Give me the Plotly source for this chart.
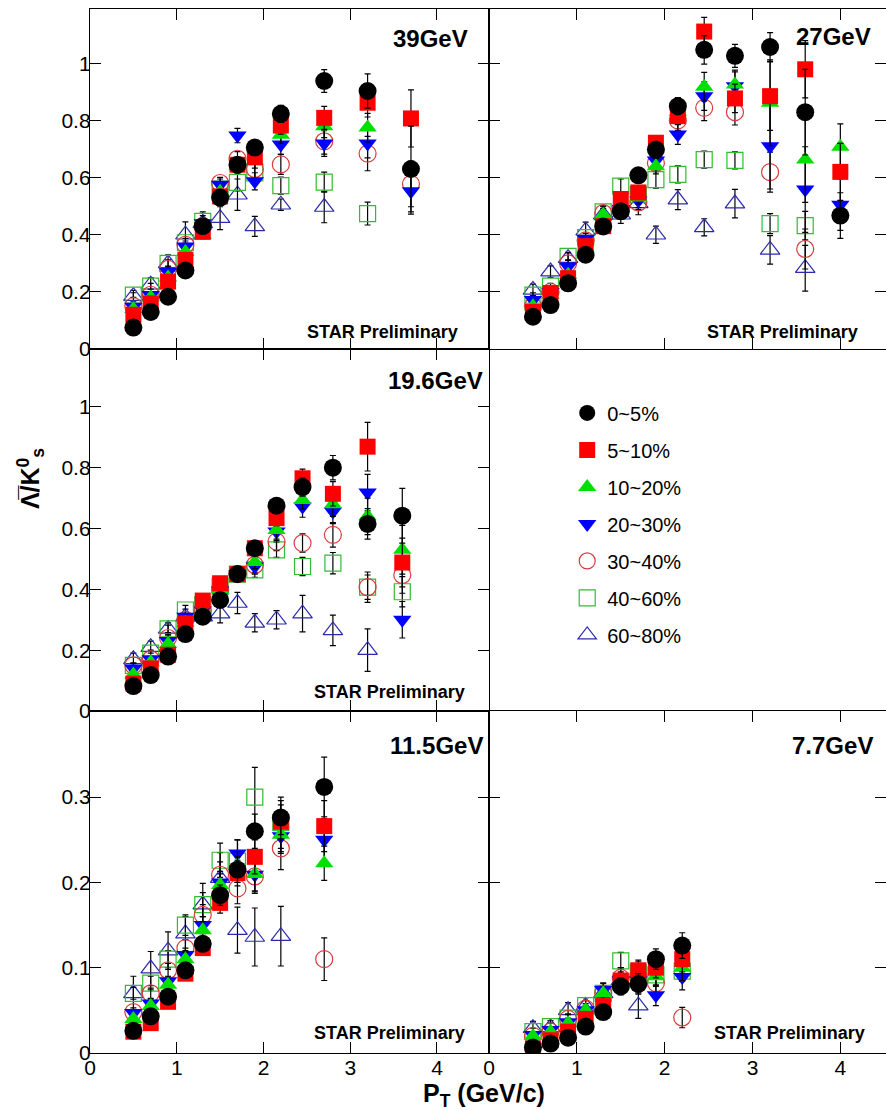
import plotly.graph_objects as go
from plotly.subplots import make_subplots

CENT = ["0~5%", "5~10%", "10~20%", "20~30%", "30~40%", "40~60%", "60~80%"]

# ---------------- 39 GeV ----------------
PT_39 = [0.5, 0.7, 0.9, 1.1, 1.3, 1.5, 1.7, 1.9, 2.2, 2.7, 3.2, 3.7]
Y_39 = {
    "0~5%":   [0.075, 0.13, 0.183, 0.275, 0.43, 0.53, 0.645, 0.705, 0.823, 0.938, 0.903, 0.63],
    "5~10%":  [0.12, 0.16, 0.236, 0.312, 0.41, 0.534, 0.645, 0.672, 0.782, 0.809, 0.862, 0.807],
    "10~20%": [0.14, 0.18, 0.25, 0.34, 0.40, 0.55, 0.64, 0.66, 0.75, 0.78, 0.775, None],
    "20~30%": [0.148, 0.189, 0.27, 0.359, 0.44, 0.575, 0.747, 0.587, 0.716, 0.719, 0.719, 0.552],
    "30~40%": [0.15, 0.19, 0.28, 0.365, 0.43, 0.581, 0.666, 0.63, 0.646, 0.727, 0.684, 0.578],
    "40~60%": [0.189, 0.22, 0.30, 0.372, 0.447, 0.56, 0.583, 0.616, 0.572, 0.584, 0.474, None],
    "60~80%": [0.185, 0.225, 0.30, 0.40, 0.44, 0.458, 0.54, 0.429, 0.505, 0.497, None, None],
}
E_39 = {
    "0~5%":   [0.005, 0.006, 0.007, 0.01, 0.012, 0.015, 0.02, 0.025, 0.03, 0.04, 0.06, 0.15],
    "5~10%":  [0.005, 0.006, 0.008, 0.01, 0.012, 0.015, 0.02, 0.025, 0.03, 0.04, 0.05, 0.10],
    "10~20%": [0.006, 0.007, 0.009, 0.011, 0.014, 0.017, 0.022, 0.027, 0.03, 0.04, 0.05, None],
    "20~30%": [0.006, 0.007, 0.009, 0.012, 0.015, 0.02, 0.025, 0.03, 0.035, 0.045, 0.05, 0.08],
    "30~40%": [0.007, 0.008, 0.01, 0.013, 0.016, 0.02, 0.025, 0.03, 0.035, 0.045, 0.06, 0.08],
    "40~60%": [0.008, 0.01, 0.012, 0.015, 0.02, 0.025, 0.03, 0.03, 0.03, 0.035, 0.04, None],
    "60~80%": [0.02, 0.025, 0.03, 0.045, 0.04, 0.04, 0.055, 0.035, 0.02, 0.055, None, None],
}

# ---------------- 27 GeV ----------------
PT_27 = [0.5, 0.7, 0.9, 1.1, 1.3, 1.5, 1.7, 1.9, 2.15, 2.45, 2.8, 3.2, 3.6, 4.0]
Y_27 = {
    "0~5%":   [0.113, 0.154, 0.23, 0.33, 0.429, 0.482, 0.608, 0.698, 0.85, 1.047, 1.026, 1.057, 0.829, 0.467],
    "5~10%":  [0.13, 0.196, 0.248, 0.36, 0.43, 0.525, 0.548, 0.722, 0.815, 1.111, 0.877, 0.885, 0.979, 0.62],
    "10~20%": [0.15, 0.19, 0.26, 0.35, 0.47, 0.49, 0.53, 0.64, 0.83, 0.918, 0.926, 0.862, 0.663, 0.708],
    "20~30%": [0.172, 0.20, 0.289, 0.385, 0.44, 0.49, 0.52, 0.66, 0.751, 0.885, 0.92, 0.71, 0.558, 0.505],
    "30~40%": [0.15, 0.20, 0.30, 0.38, 0.476, 0.49, 0.513, 0.651, 0.80, 0.844, 0.829, 0.619, 0.35, None],
    "40~60%": [0.189, 0.22, 0.324, 0.39, 0.48, 0.57, 0.54, 0.593, 0.611, 0.663, 0.66, 0.439, 0.432, None],
    "60~80%": [0.207, 0.271, 0.318, 0.414, 0.47, 0.47, 0.51, 0.40, 0.523, 0.426, 0.509, 0.347, 0.283, None],
}
E_27 = {
    "0~5%":   [0.005, 0.006, 0.008, 0.01, 0.012, 0.015, 0.02, 0.025, 0.03, 0.05, 0.04, 0.05, 0.15, 0.08],
    "5~10%":  [0.005, 0.006, 0.008, 0.01, 0.012, 0.015, 0.02, 0.025, 0.03, 0.05, 0.05, 0.12, 0.10, 0.10],
    "10~20%": [0.006, 0.007, 0.009, 0.011, 0.014, 0.017, 0.022, 0.027, 0.03, 0.05, 0.05, 0.15, 0.15, 0.08],
    "20~30%": [0.006, 0.007, 0.009, 0.012, 0.015, 0.02, 0.025, 0.03, 0.035, 0.05, 0.05, 0.15, 0.15, 0.09],
    "30~40%": [0.007, 0.008, 0.01, 0.013, 0.016, 0.02, 0.025, 0.03, 0.035, 0.045, 0.045, 0.07, 0.07, None],
    "40~60%": [0.008, 0.01, 0.012, 0.015, 0.02, 0.025, 0.03, 0.03, 0.03, 0.03, 0.03, 0.035, 0.05, None],
    "60~80%": [0.02, 0.02, 0.02, 0.03, 0.03, 0.03, 0.04, 0.03, 0.035, 0.03, 0.05, 0.05, 0.08, None],
}

# ---------------- 19.6 GeV ----------------
PT_19 = [0.5, 0.7, 0.9, 1.1, 1.3, 1.5, 1.7, 1.9, 2.15, 2.45, 2.8, 3.2, 3.6]
Y_19 = {
    "0~5%":   [0.082, 0.118, 0.179, 0.253, 0.31, 0.365, 0.45, 0.535, 0.675, 0.736, 0.80, 0.615, 0.642],
    "5~10%":  [0.09, 0.14, 0.185, 0.288, 0.363, 0.42, 0.45, 0.535, 0.634, 0.765, 0.714, 0.869, 0.488],
    "10~20%": [0.12, 0.16, 0.22, 0.29, 0.33, 0.40, 0.45, 0.49, 0.595, 0.694, 0.68, 0.64, 0.53],
    "20~30%": [0.14, 0.17, 0.23, 0.31, 0.33, 0.396, 0.45, 0.475, 0.59, 0.672, 0.656, 0.718, 0.30],
    "30~40%": [0.15, 0.17, 0.24, 0.30, 0.33, 0.40, 0.45, 0.48, 0.557, 0.552, 0.579, 0.407, 0.447],
    "40~60%": [0.15, 0.19, 0.27, 0.332, 0.35, 0.41, 0.45, 0.464, 0.53, 0.475, 0.486, 0.407, 0.392],
    "60~80%": [0.17, 0.21, 0.27, 0.31, 0.31, 0.32, 0.355, 0.29, 0.30, 0.32, 0.265, 0.20, None],
}
E_19 = {
    "0~5%":   [0.005, 0.006, 0.008, 0.01, 0.012, 0.015, 0.02, 0.02, 0.025, 0.03, 0.04, 0.05, 0.09],
    "5~10%":  [0.005, 0.006, 0.008, 0.01, 0.012, 0.015, 0.02, 0.02, 0.025, 0.03, 0.04, 0.08, 0.08],
    "10~20%": [0.006, 0.007, 0.009, 0.011, 0.014, 0.017, 0.02, 0.022, 0.03, 0.03, 0.04, 0.06, 0.08],
    "20~30%": [0.006, 0.007, 0.009, 0.012, 0.015, 0.02, 0.02, 0.025, 0.03, 0.035, 0.04, 0.06, 0.06],
    "30~40%": [0.007, 0.008, 0.01, 0.013, 0.016, 0.02, 0.02, 0.025, 0.03, 0.03, 0.04, 0.05, 0.06],
    "40~60%": [0.008, 0.01, 0.012, 0.015, 0.02, 0.02, 0.02, 0.025, 0.025, 0.03, 0.035, 0.04, 0.05],
    "60~80%": [0.02, 0.02, 0.02, 0.025, 0.025, 0.03, 0.035, 0.03, 0.03, 0.06, 0.05, 0.07, None],
}

# ---------------- 11.5 GeV ----------------
PT_11 = [0.5, 0.7, 0.9, 1.1, 1.3, 1.5, 1.7, 1.9, 2.2, 2.7]
Y_11 = {
    "0~5%":   [0.026, 0.043, 0.066, 0.097, 0.128, 0.185, 0.215, 0.26, 0.276, 0.312],
    "5~10%":  [0.025, 0.035, 0.06, 0.093, 0.123, 0.176, 0.211, 0.23, 0.271, 0.266],
    "10~20%": [0.04, 0.055, 0.08, 0.11, 0.144, 0.197, 0.22, 0.21, 0.256, 0.2225],
    "20~30%": [0.047, 0.058, 0.084, 0.115, 0.15, 0.20, 0.234, 0.209, 0.254, 0.25],
    "30~40%": [0.048, 0.07, 0.097, 0.123, 0.162, 0.209, 0.193, 0.207, 0.24, 0.11],
    "40~60%": [0.07, 0.082, 0.11, 0.15, 0.174, 0.226, 0.225, 0.30, 0.27, None],
    "60~80%": [0.07, 0.099, 0.12, 0.14, 0.174, 0.205, 0.144, 0.136, 0.137, None],
}
E_11 = {
    "0~5%":   [0.003, 0.004, 0.005, 0.006, 0.008, 0.012, 0.015, 0.02, 0.02, 0.035],
    "5~10%":  [0.003, 0.004, 0.005, 0.006, 0.008, 0.012, 0.015, 0.02, 0.02, 0.03],
    "10~20%": [0.004, 0.005, 0.006, 0.008, 0.01, 0.013, 0.016, 0.02, 0.02, 0.02],
    "20~30%": [0.004, 0.005, 0.006, 0.008, 0.01, 0.013, 0.016, 0.02, 0.02, 0.025],
    "30~40%": [0.005, 0.006, 0.008, 0.01, 0.012, 0.015, 0.018, 0.02, 0.025, 0.025],
    "40~60%": [0.007, 0.008, 0.01, 0.012, 0.014, 0.02, 0.025, 0.035, 0.03, None],
    "60~80%": [0.02, 0.02, 0.022, 0.02, 0.025, 0.03, 0.027, 0.034, 0.035, None],
}

# ---------------- 7.7 GeV ----------------
PT_7 = [0.5, 0.7, 0.9, 1.1, 1.3, 1.5, 1.7, 1.9, 2.2]
Y_7 = {
    "0~5%":   [0.0066, 0.011, 0.018, 0.031, 0.048, 0.078, 0.081, 0.11, 0.126],
    "5~10%":  [0.005, 0.015, 0.025, 0.04, 0.055, 0.085, 0.097, 0.10, 0.11],
    "10~20%": [0.02, 0.025, 0.035, 0.05, 0.07, 0.08, 0.09, 0.09, 0.10],
    "20~30%": [0.021, 0.027, 0.036, 0.05, 0.074, 0.085, 0.085, 0.0676, 0.089],
    "30~40%": [0.02, 0.025, 0.04, 0.052, 0.07, 0.088, 0.09, 0.082, 0.0416],
    "40~60%": [0.025, 0.031, 0.041, 0.0555, 0.07, 0.108, 0.095, 0.0915, 0.096],
    "60~80%": [0.029, 0.03, 0.05, 0.055, 0.07, 0.085, 0.0555, None, None],
}
E_7 = {
    "0~5%":   [0.002, 0.003, 0.004, 0.005, 0.007, 0.01, 0.012, 0.012, 0.015],
    "5~10%":  [0.002, 0.003, 0.004, 0.005, 0.007, 0.01, 0.012, 0.012, 0.015],
    "10~20%": [0.003, 0.003, 0.004, 0.005, 0.007, 0.01, 0.012, 0.012, 0.015],
    "20~30%": [0.003, 0.003, 0.004, 0.006, 0.008, 0.01, 0.012, 0.012, 0.015],
    "30~40%": [0.003, 0.004, 0.005, 0.006, 0.008, 0.012, 0.012, 0.012, 0.012],
    "40~60%": [0.004, 0.004, 0.005, 0.006, 0.008, 0.01, 0.012, 0.012, 0.012],
    "60~80%": [0.008, 0.008, 0.009, 0.01, 0.012, 0.015, 0.015, None, None],
}

PANELS = [
    ("39GeV", PT_39, Y_39, E_39, 1, 1),
    ("27GeV", PT_27, Y_27, E_27, 1, 2),
    ("19.6GeV", PT_19, Y_19, E_19, 2, 1),
    ("11.5GeV", PT_11, Y_11, E_11, 3, 1),
    ("7.7GeV", PT_7, Y_7, E_7, 3, 2),
]

Y_TICKS_TOP = [0, 0.2, 0.4, 0.6, 0.8, 1.0]
Y_TICKS_BOT = [0, 0.1, 0.2, 0.3]
X_TICKS = [0, 1, 2, 3, 4]

STYLE = {
    "0~5%":   dict(symbol="circle", color="#000000", size=18, lw=0, lc="#000000"),
    "5~10%":  dict(symbol="square", color="#ff0000", size=16, lw=0, lc="#ff0000"),
    "10~20%": dict(symbol="triangle-up", color="#00e000", size=16, lw=0, lc="#00e000"),
    "20~30%": dict(symbol="triangle-down", color="#0000ff", size=16, lw=0, lc="#0000ff"),
    "30~40%": dict(symbol="circle-open", color="#d83a3a", size=17, lw=1.2, lc="#d83a3a"),
    "40~60%": dict(symbol="square-open", color="#33bb33", size=16, lw=1.2, lc="#33bb33"),
    "60~80%": dict(symbol="triangle-up-open", color="#2a2ab0", size=17, lw=1.2, lc="#2a2ab0"),
}

FONT = "Liberation Sans, Arial, sans-serif"

fig = make_subplots(rows=3, cols=2, horizontal_spacing=0, vertical_spacing=0)

first = True
for label, pts, ys, es, r, c in PANELS:
    for cent in reversed(CENT):
        st = STYLE[cent]
        fig.add_trace(
            go.Scatter(
                x=pts, y=ys[cent], mode="markers", name=cent,
                legendgroup=cent, showlegend=first, legendrank=CENT.index(cent) + 1,
                marker=dict(symbol=st["symbol"], color=st["color"], size=st["size"],
                            line=dict(width=st["lw"], color=st["lc"])),
                error_y=dict(type="data", array=es[cent], visible=True,
                             color="#000000", thickness=1.2, width=3),
            ),
            row=r, col=c,
        )
    first = False

# geometry (paper fractions)
XL = [0.0, 0.5013]
XR = [0.5013, 1.0]
Y3 = [0.0, 0.3276]
Y2 = [0.3276, 0.6743]
Y1 = [0.6743, 1.0]

dom = {(1, 1): (XL, Y1), (1, 2): (XR, Y1), (2, 1): (XL, Y2), (2, 2): (XR, Y2),
       (3, 1): (XL, Y3), (3, 2): (XR, Y3)}

for r in range(1, 4):
    for c in range(1, 3):
        idx = (r - 1) * 2 + c
        xd, yd = dom[(r, c)]
        xname = "xaxis" if idx == 1 else f"xaxis{idx}"
        yname = "yaxis" if idx == 1 else f"yaxis{idx}"
        xr = [0, 4.6] if c == 1 else [0, 4.52]
        yr = [0, 0.401] if r == 3 else [0, 1.19]
        yt = Y_TICKS_BOT if r == 3 else Y_TICKS_TOP
        fig.layout[xname].update(
            domain=xd, range=xr, tickmode="array", tickvals=X_TICKS,
            ticktext=[str(v) for v in X_TICKS],
            ticks="inside", ticklen=11, tickwidth=1.2, tickcolor="black",
            showline=True, linecolor="black", linewidth=1.3, mirror="ticks",
            showgrid=False, zeroline=False, showticklabels=(r == 3),
            ticklabelstandoff=-4,
            tickfont=dict(family=FONT, size=21, color="black"),
        )
        fig.layout[yname].update(
            domain=yd, range=yr, tickmode="array", tickvals=yt,
            ticktext=[("%g" % v) for v in yt],
            ticks="inside", ticklen=11, tickwidth=1.2, tickcolor="black",
            showline=True, linecolor="black", linewidth=1.3, mirror="ticks",
            showgrid=False, zeroline=False, showticklabels=(c == 1),
            ticklabelstandoff=-6,
            tickfont=dict(family=FONT, size=21, color="black"),
        )

ann = []
LABELPOS = {"39GeV": (0.4774, 0.9722), "27GeV": (0.9837, 0.9732), "19.6GeV": (0.4962, 0.6446),
            "11.5GeV": (0.4962, 0.2950), "7.7GeV": (0.9862, 0.2950)}
for k, (x, y) in LABELPOS.items():
    ann.append(dict(text=f"<b>{k}</b>", x=x, y=y, xref="paper", yref="paper",
                    xanchor="right", yanchor="middle", showarrow=False,
                    font=dict(family=FONT, size=24, color="black")))
STARPOS = [(0.4648, 0.6906), (0.9673, 0.6906), (0.4736, 0.3458), (0.4736, 0.0192), (0.9761, 0.0192)]
for x, y in STARPOS:
    ann.append(dict(text="<b>STAR Preliminary</b>", x=x, y=y, xref="paper", yref="paper",
                    xanchor="right", yanchor="middle", showarrow=False,
                    font=dict(family=FONT, size=18, color="black")))
# axis titles
ann.append(dict(text="<b>\u039b\u0305/K<sup>0</sup><sub>s</sub></b>", x=-0.075, y=0.55,
                xref="paper", yref="paper", textangle=-90, showarrow=False,
                xanchor="center", yanchor="middle",
                font=dict(family=FONT, size=25, color="black")))
ann.append(dict(text="<b>P<sub>T</sub> (GeV/c)</b>", x=0.495, y=-0.0405,
                xref="paper", yref="paper", showarrow=False,
                xanchor="center", yanchor="middle",
                font=dict(family=FONT, size=25, color="black")))

fig.update_layout(
    width=886, height=1110,
    margin=dict(l=90, r=0, t=9, b=57),
    paper_bgcolor="white", plot_bgcolor="white",
    annotations=ann,
    showlegend=True,
    legend=dict(x=0.5995, y=0.6318, xanchor="left", yanchor="top",
                traceorder="grouped", tracegroupgap=8,
                font=dict(family=FONT, size=20, color="black"),
                bgcolor="rgba(0,0,0,0)", borderwidth=0, itemsizing="trace"),
)

fig.write_html("out.html")
